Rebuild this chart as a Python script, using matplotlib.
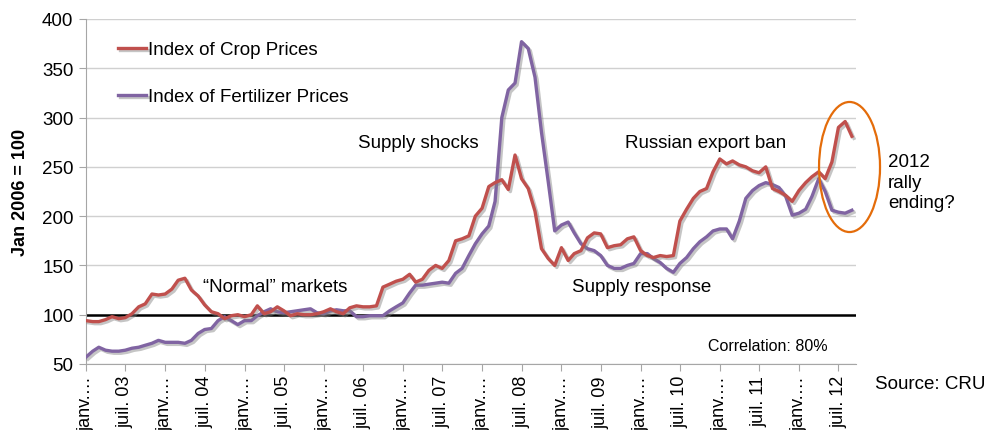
import matplotlib
matplotlib.use("Agg")
import matplotlib.pyplot as plt
import matplotlib.patheffects as pe
from matplotlib.patches import Ellipse
import pandas as pd

plt.rcParams['font.family'] = ['Liberation Sans', 'DejaVu Sans']

# monthly index values, Jan 2003 .. Sep 2012 (Jan 2006 = 100)
crop = [94, 93, 93, 95, 98, 96, 97, 101, 108, 111, 121, 120,
        121, 126, 135, 137, 125, 119, 110, 103, 101, 96, 99, 100,
        98, 100, 109, 101, 103, 108, 104, 99, 101, 100, 100, 101,
        103, 106, 103, 101, 107, 109, 108, 108, 109, 128, 131, 134,
        136, 141, 133, 136, 145, 150, 147, 155, 175, 177, 180, 200,
        208, 230, 234, 237, 227, 262, 238, 228, 205, 167, 157, 150,
        168, 155, 162, 165, 178, 183, 182, 168, 170, 171, 177, 179,
        165, 160, 158, 160, 159, 160, 195, 207, 218, 225, 228, 245,
        258, 253, 256, 252, 250, 246, 244, 250, 228, 225, 221, 215,
        226, 234, 240, 245, 238, 255, 290, 296, 281]
fert = [57, 63, 67, 64, 63, 63, 64, 66, 67, 69, 71, 74,
        72, 72, 72, 71, 74, 81, 85, 86, 94, 98, 94, 90,
        94, 94, 99, 103, 106, 103, 102, 103, 104, 105, 106, 102,
        101, 104, 105, 104, 104, 98, 98, 99, 99, 99, 104, 108,
        112, 122, 130, 130, 131, 132, 133, 132, 142, 147, 160, 172,
        182, 190, 215, 300, 328, 335, 377, 370, 341, 285, 235, 185,
        191, 194, 183, 172, 167, 165, 160, 150, 147, 147, 150, 152,
        162, 162, 157, 153, 147, 143, 152, 158, 167, 174, 179, 185,
        187, 187, 177, 195, 218, 226, 231, 234, 232, 229, 220, 201,
        203, 207, 220, 238, 225, 206, 204, 203, 206]
dates = pd.date_range('2003-01-01', periods=len(crop), freq='MS')

tick_dates = pd.date_range('2003-01-01', '2012-07-01', freq='6MS')
tick_labels = ['janv.…' if d.month == 1 else 'juil. %02d' % (d.year % 100) for d in tick_dates]

red = '#C0504D'
purple = '#8064A2'
grey = '#A6A6A6'

fig = plt.figure(figsize=(9.87, 4.31), dpi=100)
ax = fig.add_axes([86/987, 66/431, 770/987, 345/431])

shadow = [pe.SimpleLineShadow(offset=(1.5, -1.5), shadow_color='gray', alpha=0.45), pe.Normal()]
ax.plot(dates, crop, color=red, lw=2.4, label='Index of Crop Prices', path_effects=shadow, zorder=4)
ax.plot(dates, fert, color=purple, lw=2.4, label='Index of Fertilizer Prices', path_effects=shadow, zorder=3)
ax.axhline(100, color='black', lw=1.8, zorder=2)

ax.set_ylim(50, 400)
ax.set_yticks(range(50, 401, 50))
ax.set_xlim(pd.Timestamp('2003-01-01'), pd.Timestamp('2012-09-20'))
ax.set_xticks(tick_dates)
ax.set_xticklabels(tick_labels, rotation=90, fontsize=13)
ax.tick_params(axis='y', labelsize=13.5, length=5, color=grey, pad=4)
ax.tick_params(axis='x', length=5, color=grey, pad=3)
ax.grid(axis='y', color='#D0D0D0', lw=1)
ax.set_axisbelow(True)
for s in ['top', 'right']:
    ax.spines[s].set_visible(False)
for s in ['left', 'bottom']:
    ax.spines[s].set_color(grey)

ax.set_ylabel('Jan 2006 = 100', fontsize=13, fontweight='bold', labelpad=9)

ax.legend(loc='upper left', bbox_to_anchor=(0.02, 0.985), frameon=False, fontsize=13.5,
          handlelength=1.5, handletextpad=0.1, labelspacing=1.6)

def label(x, y, s, **kw):
    fig.text(x/987, 1 - y/431, s, va='center', ha='left', **kw)

label(358, 143, 'Supply shocks', fontsize=13.5)
label(625, 143, 'Russian export ban', fontsize=13.5)
label(203, 287, '“Normal” markets', fontsize=13.5)
label(572, 288, 'Supply response', fontsize=13.5)
label(708, 347, 'Correlation: 80%', fontsize=11.5)
label(888, 183, '2012\nrally\nending?', fontsize=13.5, linespacing=1.3)
label(875, 385, 'Source: CRU', fontsize=13.5)

ax.add_patch(Ellipse((0.9916, 0.571), 0.0792, 0.377, transform=ax.transAxes,
                     fill=False, edgecolor='#E46C0A', lw=1.6, clip_on=False, zorder=5))

fig.savefig('out.png', dpi=100)
